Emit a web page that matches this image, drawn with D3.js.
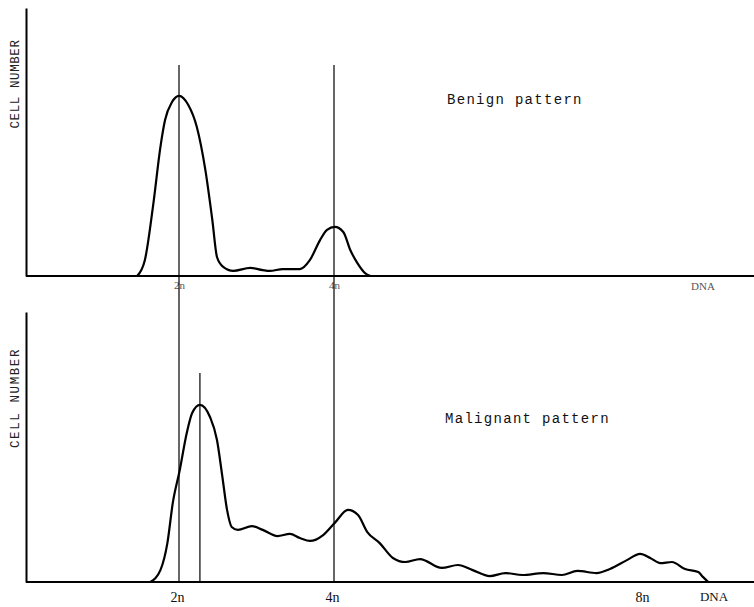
<!DOCTYPE html>
<html>
<head>
<meta charset="utf-8">
<script src="https://cdn.jsdelivr.net/npm/d3@7"></script>
<style>
  body { margin: 0; background: #fff; }
  svg { display: block; }
  .mono { font-family: "Courier New", "Liberation Mono", monospace; }
</style>
</head>
<body>
<div id="chart"></div>
<script>
// DNA content (in units of n) and relative cell number
var benignDna = [1.46, 1.56, 1.67, 1.76, 1.82, 1.91, 2.0, 2.12, 2.23, 2.34, 2.43, 2.49, 2.57, 2.70, 2.92, 3.08, 3.17, 3.34, 3.56, 3.69, 3.82, 3.91, 4.01, 4.12, 4.21, 4.30, 4.40, 4.47];
var benignCells = [0, 6.0, 27.2, 48.1, 58.2, 64.9, 67.2, 63.8, 55.6, 39.6, 20.9, 7.1, 3.4, 1.9, 3.0, 2.2, 1.9, 2.6, 2.6, 6.0, 13.4, 17.2, 18.3, 16.4, 9.7, 4.9, 1.1, 0];

var malignantDna = [1.63, 1.76, 1.85, 1.92, 2.01, 2.10, 2.17, 2.27, 2.40, 2.49, 2.56, 2.62, 2.68, 2.76, 2.94, 3.08, 3.27, 3.43, 3.56, 3.69, 3.86, 4.01, 4.18, 4.31, 4.43, 4.59, 4.76, 4.92, 5.11, 5.39, 5.60, 5.79, 6.01, 6.21, 6.43, 6.70, 6.94, 7.14, 7.39, 7.56, 7.78, 7.95, 8.08, 8.21, 8.36, 8.53, 8.70, 8.76, 8.83];
var malignantCells = [0, 4.4, 14.4, 29.3, 41.5, 55.2, 62.6, 65.6, 61.1, 52.6, 38.9, 26.7, 20.4, 19.3, 20.7, 19.3, 17.0, 17.8, 16.3, 15.2, 17.4, 21.9, 26.7, 24.8, 18.5, 14.4, 8.9, 7.4, 8.5, 5.2, 6.3, 4.4, 2.2, 3.3, 2.6, 3.3, 2.6, 4.1, 3.3, 4.8, 8.1, 10.4, 8.9, 7.0, 7.4, 4.8, 3.7, 1.9, 0];

var ploidyLines = [2, 4];          // reference lines through both panels
var malignantMode = 2.27;           // short marker at the malignant peak
var benignTicks = [2, 4];
var benignTickLabels = ["2n", "4n"];
var malignantTicks = [2, 4, 8];
var malignantTickLabels = ["2n", "4n", "8n"];

var width = 754, height = 607;

var svg = d3.select("#chart").append("svg")
    .attr("width", width)
    .attr("height", height);

var x = d3.scaleLinear().domain([0, 9.4]).range([24, 752.5]);
var yTop = d3.scaleLinear().domain([0, 100]).range([276, 8]);
var yBot = d3.scaleLinear().domain([0, 100]).range([582, 312]);

function drawPanel(yScale, dna, cells, ticks, tickLabels, title, small) {
    var g = svg.append("g");

    // baseline with DNA tick labels
    var xAxis = d3.axisBottom(x)
        .tickValues(ticks)
        .tickFormat(function (d, i) { return tickLabels[i]; })
        .tickSize(0)
        .tickSizeOuter(0)
        .tickPadding(small ? 5 : 10);

    var ax = g.append("g")
        .attr("transform", "translate(0," + yScale(0) + ")")
        .call(xAxis);
    ax.select(".domain").attr("stroke", "#000").attr("stroke-width", 2).attr("d", "M26,0H754");
    ax.selectAll(".tick text")
        .attr("font-family", "Liberation Serif, serif")
        .attr("font-size", small ? 11 : 14)
        .attr("fill", small ? "#555" : "#111")
        .attr("dx", small ? 0 : -2);

    // DNA label at the end of the baseline
    g.append("text")
        .attr("x", small ? 703 : 714)
        .attr("y", yScale(0) + (small ? 14 : 19))
        .attr("text-anchor", "middle")
        .attr("font-family", "Liberation Serif, serif")
        .attr("font-size", small ? 11 : 13)
        .attr("fill", small ? "#555" : "#111")
        .text("DNA");

    // vertical axis, no ticks
    var yAxis = d3.axisLeft(yScale).tickValues([]).tickSizeOuter(0);
    var ay = g.append("g")
        .attr("transform", "translate(26,0)")
        .call(yAxis);
    ay.select(".domain").attr("stroke", "#000").attr("stroke-width", 2);

    g.append("text")
        .attr("class", "mono")
        .attr("transform", "translate(19," + (small ? 84 : 398) + ") rotate(-90)")
        .attr("text-anchor", "middle")
        .attr("font-size", 12.5)
        .attr("letter-spacing", small ? 0.6 : 1.6)
        .attr("fill", "#222")
        .text("CELL NUMBER");

    g.append("text")
        .attr("class", "mono")
        .attr("x", small ? 447 : 445)
        .attr("y", small ? 104 : 423)
        .attr("font-size", 14)
        .attr("letter-spacing", 1.3)
        .attr("fill", "#111")
        .text(title);

    var line = d3.line()
        .x(function (d, i) { return x(dna[i]); })
        .y(function (d) { return yScale(d); })
        .curve(d3.curveMonotoneX);

    g.append("path")
        .datum(cells)
        .attr("d", line)
        .attr("fill", "none")
        .attr("stroke", "#000")
        .attr("stroke-width", 2.2)
        .attr("stroke-linejoin", "round");
}

drawPanel(yTop, benignDna, benignCells, benignTicks, benignTickLabels, "Benign pattern", true);
drawPanel(yBot, malignantDna, malignantCells, malignantTicks, malignantTickLabels, "Malignant pattern", false);

// 2n and 4n lines run through both panels
svg.selectAll(".ploidy")
    .data(ploidyLines)
    .enter().append("line")
    .attr("class", "ploidy")
    .attr("x1", function (d) { return x(d); })
    .attr("x2", function (d) { return x(d); })
    .attr("y1", yTop(78.7))
    .attr("y2", yBot(0))
    .attr("stroke", "#000")
    .attr("stroke-width", 1.2);

// marker at the malignant modal value
svg.append("line")
    .attr("x1", x(malignantMode))
    .attr("x2", x(malignantMode))
    .attr("y1", yBot(77.4))
    .attr("y2", yBot(0))
    .attr("stroke", "#000")
    .attr("stroke-width", 1.2);
</script>
</body>
</html>
